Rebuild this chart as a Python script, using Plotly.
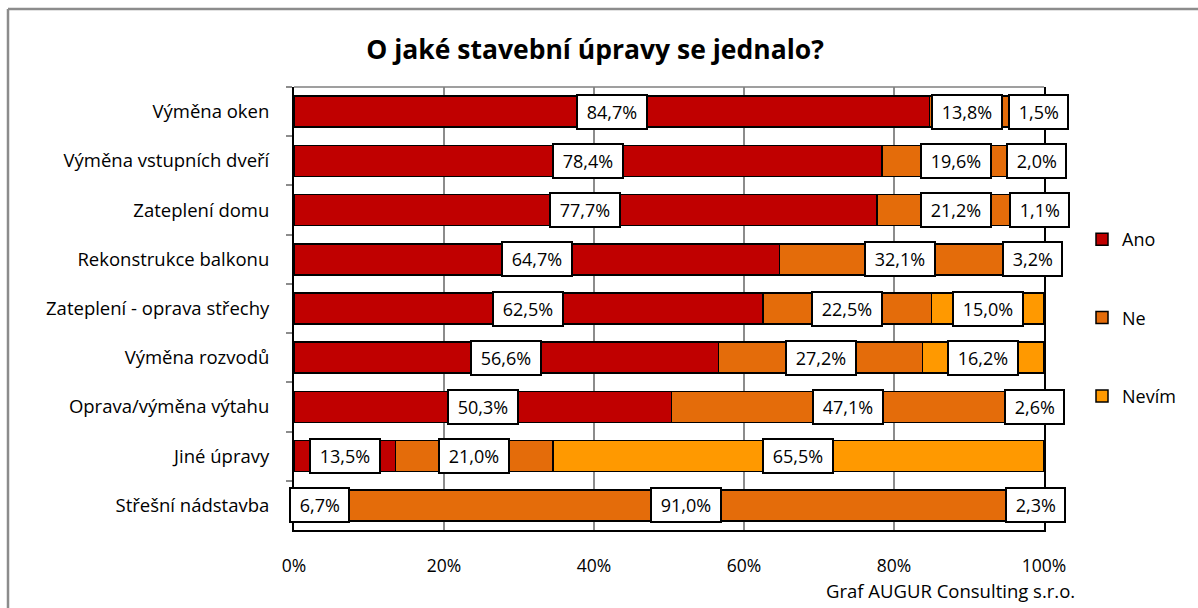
import numpy as np
import plotly.graph_objects as go

categories = ["Výměna oken", "Výměna vstupních dveří", "Zateplení domu",
              "Rekonstrukce balkonu", "Zateplení - oprava střechy", "Výměna rozvodů",
              "Oprava/výměna výtahu", "Jiné úpravy", "Střešní nádstavba"]
ano = [84.7, 78.4, 77.7, 64.7, 62.5, 56.6, 50.3, 13.5, 6.7]
ne = [13.8, 19.6, 21.2, 32.1, 22.5, 27.2, 47.1, 21.0, 91.0]
nevim = [1.5, 2.0, 1.1, 3.2, 15.0, 16.2, 2.6, 65.5, 2.3]
series_names = ["Ano", "Ne", "Nevím"]
x_ticks = [0, 20, 40, 60, 80, 100]
x_tick_labels = ["0%", "20%", "40%", "60%", "80%", "100%"]

colors = ["#C00000", "#E46C0A", "#FF9900"]
FONT = "Open Sans"
W, H = 1198, 608
ML, MR, MT, MB = 294, 154, 87, 78
PW, PH = W - ML - MR, H - MT - MB

fig = go.Figure()
series = [ano, ne, nevim]
for name, vals, col in zip(series_names, series, colors):
    fig.add_trace(go.Bar(
        y=categories, x=vals, name=name, orientation="h",
        marker=dict(color=col, line=dict(color="#000000", width=1.5)),
        legendgroup=name, hoverinfo="x+y+name",
    ))

# data labels at segment centres
arr = np.array(series)
starts = np.vstack([np.zeros(len(categories)), np.cumsum(arr, axis=0)[:-1]])
centres = starts + arr / 2
annotations = []
NB = "\u00a0"
for si in range(arr.shape[0]):
    for ci, cat in enumerate(categories):
        xshift = 0
        if si == 1 and ci == 0:
            xshift = -14  # label nudged left in the original
        annotations.append(dict(
            x=centres[si, ci], y=cat, xref="x", yref="y",
            text=NB + f"{arr[si, ci]:.1f}%".replace(".", ",") + NB,
            showarrow=False, xshift=xshift, height=24,
            font=dict(family=FONT, size=18, color="#000000"),
            bgcolor="#FFFFFF", bordercolor="#000000", borderwidth=2, borderpad=4,
        ))

# header text (cropped at top, as in the original)
annotations.append(dict(
    text="Graf č. 20", x=-ML / PW, y=1 + (MT - 8) / PH, xref="paper", yref="paper",
    xanchor="left", yanchor="bottom", showarrow=False,
    font=dict(family=FONT, size=19, color="#000000"),
))
# footer
annotations.append(dict(
    text="Graf AUGUR Consulting s.r.o.", x=(1077 - ML) / PW, y=-(590 - (H - MB)) / PH,
    xref="paper", yref="paper", xanchor="right", yanchor="middle", showarrow=False,
    font=dict(family=FONT, size=18.5, color="#000000"),
))

shapes = [
    # outer frame (open to right/bottom)
    dict(type="line", xref="paper", yref="paper",
         x0=(8 - ML) / PW, x1=(W + 10 - ML) / PW, y0=1 + (MT - 9) / PH, y1=1 + (MT - 9) / PH,
         line=dict(color="#8C8C8C", width=2.5)),
    dict(type="line", xref="paper", yref="paper",
         x0=(8 - ML) / PW, x1=(8 - ML) / PW, y0=1 + (MT - 9) / PH, y1=-(MB + 10) / PH,
         line=dict(color="#8C8C8C", width=2.5)),
    # plot area top edge
    dict(type="line", xref="paper", yref="paper", x0=0, x1=1, y0=1, y1=1,
         line=dict(color="#7F7F7F", width=1.5)),
]

fig.update_layout(
    width=W, height=H,
    margin=dict(l=ML, r=MR, t=MT, b=MB, autoexpand=False),
    paper_bgcolor="#FFFFFF", plot_bgcolor="#FFFFFF",
    barmode="stack", bargap=0.37,
    title=dict(text="<b>O jaké stavební úpravy se jednalo?</b>", x=595 / W, xref="container",
               y=1 - 50 / H, yref="container", xanchor="center", yanchor="middle",
               font=dict(family=FONT, size=26.5, color="#000000")),
    font=dict(family=FONT, size=18, color="#000000"),
    showlegend=True,
    legend=dict(x=(1082 - ML) / PW, xanchor="left", y=(H - MB - 318) / PH, yanchor="middle",
                traceorder="grouped", tracegroupgap=52,
                font=dict(family=FONT, size=18, color="#000000"),
                bgcolor="rgba(0,0,0,0)", itemwidth=30),
    annotations=annotations,
    shapes=shapes,
)
fig.update_xaxes(
    range=[0, 100], tickvals=x_ticks, ticktext=x_tick_labels,
    showgrid=True, gridcolor="#8C8C8C", gridwidth=1.5,
    showline=True, linecolor="#000000", linewidth=2, zeroline=False,
    ticks="", ticklabelstandoff=19,
    tickfont=dict(family=FONT, size=17.5, color="#000000"),
    fixedrange=True,
)
fig.update_yaxes(
    type="category", categoryorder="array", categoryarray=categories,
    autorange="reversed", tickson="boundaries",
    ticks="outside", ticklen=6, tickcolor="#8C8C8C", tickwidth=1.5,
    showline=True, linecolor="#000000", linewidth=2, mirror=True,
    showgrid=False, ticklabelstandoff=19,
    tickfont=dict(family=FONT, size=18.5, color="#000000"),
    fixedrange=True,
)

fig.write_html("out.html")
